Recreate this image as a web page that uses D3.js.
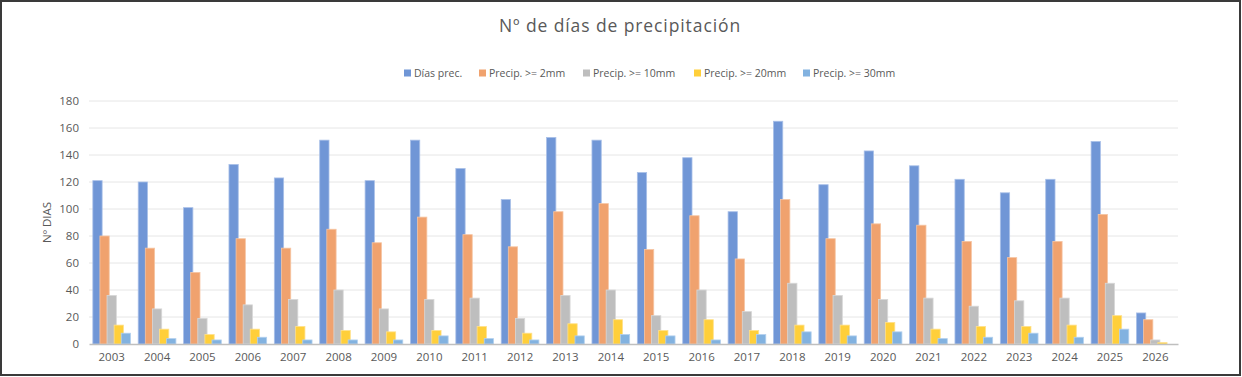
<!DOCTYPE html>
<html>
<head>
<meta charset="utf-8">
<script src="https://cdn.jsdelivr.net/npm/d3@7"></script>
<style>
  html, body { margin: 0; padding: 0; background: #fff; }
  svg { display: block; font-family: "Open Sans", "Liberation Sans", sans-serif; }
</style>
</head>
<body>
<div id="chart"></div>
<script>
// ---------------- data ----------------
const years = ["2003","2004","2005","2006","2007","2008","2009","2010","2011","2012","2013","2014",
               "2015","2016","2017","2018","2019","2020","2021","2022","2023","2024","2025","2026"];
const diasPrec  = [121,120,101,133,123,151,121,151,130,107,153,151,127,138,98,165,118,143,132,122,112,122,150,23];
const precip2   = [80,71,53,78,71,85,75,94,81,72,98,104,70,95,63,107,78,89,88,76,64,76,96,18];
const precip10  = [36,26,19,29,33,40,26,33,34,19,36,40,21,40,24,45,36,33,34,28,32,34,45,3];
const precip20  = [14,11,7,11,13,10,9,10,13,8,15,18,10,18,10,14,14,16,11,13,13,14,21,1];
const precip30  = [8,4,3,5,3,3,3,6,4,3,6,7,6,3,7,9,6,9,4,5,8,5,11,0];
const seriesNames = ["Días prec.", "Precip. >= 2mm", "Precip. >= 10mm", "Precip. >= 20mm", "Precip. >= 30mm"];
const seriesFill  = ["#7096d6", "#f0a26e", "#bebebe", "#ffcf3a", "#82b2e0"];
const seriesEdge  = ["#a9c0e8", "#f6c5a3", "#d8d8d8", "#ffe08a", "#b3d0ee"];
const yTicks = [0, 20, 40, 60, 80, 100, 120, 140, 160, 180];

const series = [diasPrec, precip2, precip10, precip20, precip30];

// ---------------- canvas ----------------
const W = 1242, H = 377;
const svg = d3.select("#chart").append("svg").attr("width", W).attr("height", H);

svg.append("rect")
    .attr("x", 1).attr("y", 1).attr("width", W - 3).attr("height", H - 3)
    .attr("fill", "#fff").attr("stroke", "#3a3a3a").attr("stroke-width", 2);

const plot = { left: 89, right: 1178, top: 101, bottom: 344 };

const x = d3.scaleBand().domain(years).range([plot.left, plot.right]).padding(0);
const y = d3.scaleLinear().domain([0, 180]).range([plot.bottom, plot.top]);

// gridlines
svg.append("g")
    .selectAll("line")
    .data(yTicks.filter(t => t > 0))
    .join("line")
    .attr("x1", plot.left).attr("x2", plot.right)
    .attr("y1", d => y(d)).attr("y2", d => y(d))
    .attr("stroke", "#e6e6e6").attr("stroke-width", 1);

// y axis labels
const yAxis = d3.axisLeft(y).tickValues(yTicks).tickSize(0).tickPadding(0);
svg.append("g")
    .attr("transform", `translate(${plot.left - 10},0)`)
    .call(yAxis)
    .call(g => g.select(".domain").remove())
    .call(g => g.selectAll("text")
        .attr("fill", "#595959")
        .attr("font-size", 11.5)
        .attr("font-family", "'Open Sans', sans-serif"));

// bars
const barW = 9.3;
const barStep = 7.1;
const groupW = barStep * 4 + barW;

series.forEach((vals, si) => {
    svg.append("g")
        .selectAll("rect")
        .data(vals.map((v, i) => ({ year: years[i], v: v })))
        .join("rect")
        .attr("x", d => x(d.year) + x.bandwidth() / 2 - groupW / 2 + si * barStep)
        .attr("y", d => y(d.v))
        .attr("width", barW)
        .attr("height", d => y(0) - y(d.v))
        .attr("fill", seriesFill[si])
        .attr("stroke", seriesEdge[si])
        .attr("stroke-width", 0.8);
});

// x axis
const xAxis = d3.axisBottom(x).tickSize(0).tickPadding(9);
svg.append("g")
    .attr("transform", `translate(0,${plot.bottom})`)
    .call(xAxis)
    .call(g => g.select(".domain").attr("stroke", "#bfbfbf").attr("stroke-width", 1.5))
    .call(g => g.selectAll("text")
        .attr("fill", "#595959")
        .attr("font-size", 11.5)
        .attr("font-family", "'Open Sans', sans-serif"));

// y axis title
svg.append("text")
    .attr("transform", `translate(51,${(plot.top + plot.bottom) / 2}) rotate(-90)`)
    .attr("text-anchor", "middle")
    .attr("fill", "#595959")
    .attr("font-size", 11.5)
    .text("Nº DIAS");

// title
svg.append("text")
    .attr("x", 620).attr("y", 32)
    .attr("text-anchor", "middle")
    .attr("fill", "#595959")
    .attr("font-size", 17.5)
    .attr("letter-spacing", 0.9)
    .text("Nº de días de precipitación");

// legend
const legendX = [404, 479, 583, 694, 803];
const legend = svg.append("g");
seriesNames.forEach((name, i) => {
    legend.append("rect")
        .attr("x", legendX[i]).attr("y", 69.5)
        .attr("width", 7).attr("height", 7)
        .attr("fill", seriesFill[i]);
    legend.append("text")
        .attr("x", legendX[i] + 10).attr("y", 77)
        .attr("fill", "#595959")
        .attr("font-size", 10.5)
        .text(name);
});
</script>
</body>
</html>
